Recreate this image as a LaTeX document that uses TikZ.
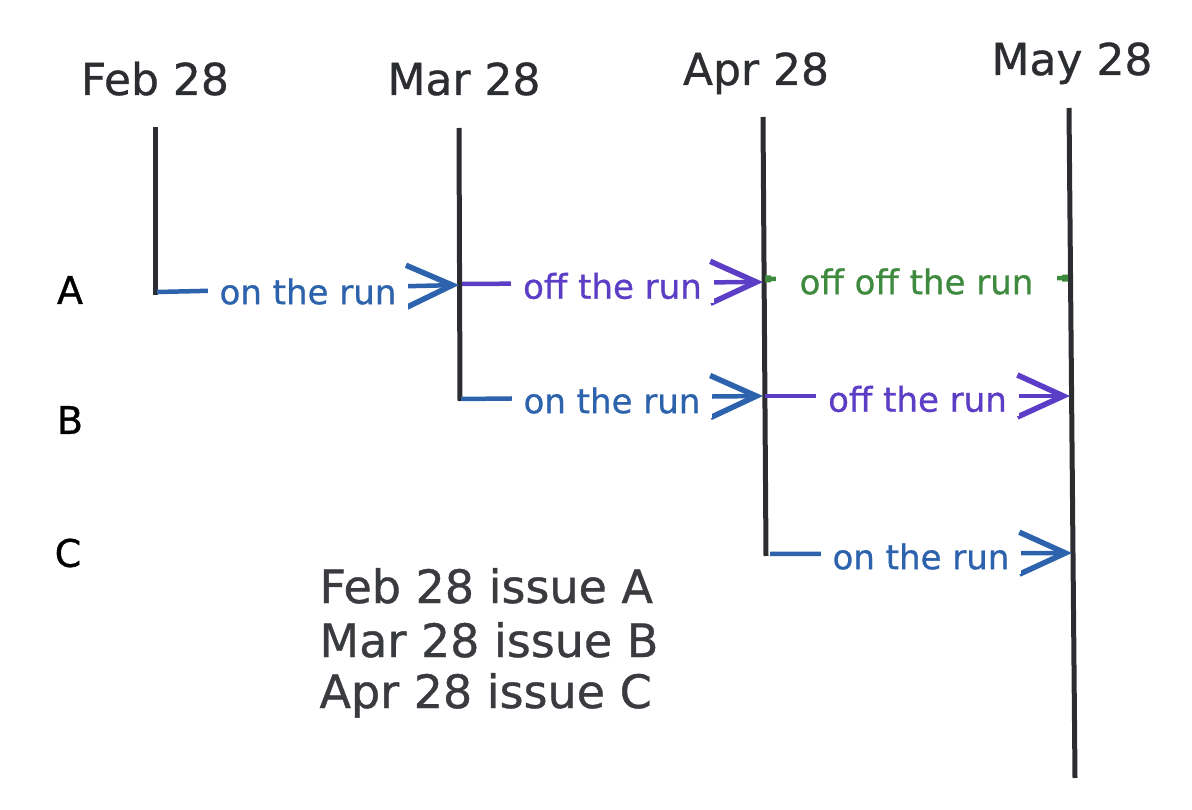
\documentclass[tikz,border=0pt]{standalone}
\usepackage{fontspec}
\setmainfont{DejaVu Sans}
\newfontfamily\handfont[FakeBold=0.8]{DejaVu Sans}
\usetikzlibrary{arrows.meta}
\definecolor{ink}{HTML}{2B2D31}
\definecolor{legendink}{HTML}{3A3B3F}
\definecolor{runblue}{HTML}{2D62AC}
\definecolor{runviolet}{HTML}{5B3DC6}
\definecolor{rungreen}{HTML}{3E8A3E}
\begin{document}
\begin{tikzpicture}[x=1pt,y=-1pt,
  timeline/.style={draw=ink,line width=5pt},
  datelbl/.style={font=\handfont\fontsize{44}{50}\selectfont,text=ink,anchor=base},
  rowlbl/.style={font=\handfont\fontsize{38}{44}\selectfont,text=black},
  legendlbl/.style={font=\handfont\fontsize{46}{52}\selectfont,text=legendink,anchor=base west},
  conn/.style={line width=4.5pt},
  chev/.style={-{Straight Barb[length=46pt,width=42pt,line width=5.5pt]}},
  dots/.style={{Square[length=6pt,width=7pt]}-{Square[length=6pt,width=7pt]}},
  runlbl/.style={fill=white,font=\handfont\fontsize{34}{40}\selectfont,inner xsep=12pt,inner ysep=4pt,yshift=-3pt},
]
\useasboundingbox (0,0) rectangle (1192,810);

% date headings
\node[datelbl] (feb) at (155,95) {Feb 28};
\node[datelbl] (mar) at (464,95) {Mar 28};
\node[datelbl] (apr) at (756,85) {Apr 28};
\node[datelbl] (may) at (1072,75) {May 28};

% row labels
\node[rowlbl] (rowA) at (70,290) {A};
\node[rowlbl] (rowB) at (70,420) {B};
\node[rowlbl] (rowC) at (68,553) {C};

% timeline end points
\coordinate (febTop) at (155,127);
\coordinate (febBot) at (155,295);
\coordinate (marTop) at (459,128);
\coordinate (marBot) at (460,401);
\coordinate (aprTop) at (763,117);
\coordinate (aprBot) at (766,556);
\coordinate (mayTop) at (1069,108);
\coordinate (mayBot) at (1075,778);

\draw[timeline] (febTop) -- (febBot);
\draw[timeline] (marTop) -- (marBot);
\draw[timeline] (aprTop) -- (aprBot);
\draw[timeline] (mayTop) -- (mayBot);

% connector end points on the timelines
\coordinate (a1) at (157,292);
\coordinate (a2) at (459,285);
\coordinate (a2s) at (462,284);
\coordinate (a3) at (763,282);
\coordinate (a3s) at (765,279);
\coordinate (a4) at (1068,278);
\coordinate (b2) at (461,399);
\coordinate (b3) at (763,396);
\coordinate (b3s) at (765,396);
\coordinate (b4) at (1070,396);
\coordinate (c3) at (770,554);
\coordinate (c4) at (1072,553);

% row A
\draw[conn,runblue,chev] (a1) -- node[runlbl,text=runblue] (lab1) {on the run} (a2);
\draw[conn,runviolet,chev] (a2s) -- node[runlbl,text=runviolet] (lab2) {off the run} (a3);
\draw[conn,rungreen,dots] (a3s) -- node[runlbl,text=rungreen,inner xsep=24pt] (lab3) {off off the run} (a4);

% row B
\draw[conn,runblue,chev] (b2) -- node[runlbl,text=runblue] (lab4) {on the run} (b3);
\draw[conn,runviolet,chev] (b3s) -- node[runlbl,text=runviolet] (lab5) {off the run} (b4);

% row C
\draw[conn,runblue,chev] (c3) -- node[runlbl,text=runblue] (lab6) {on the run} (c4);

% legend
\node[legendlbl] (leg1) at (316,603) {Feb 28 issue A};
\node[legendlbl] (leg2) at (316,657) {Mar 28 issue B};
\node[legendlbl] (leg3) at (316,708) {Apr 28 issue C};
\end{tikzpicture}
\end{document}
